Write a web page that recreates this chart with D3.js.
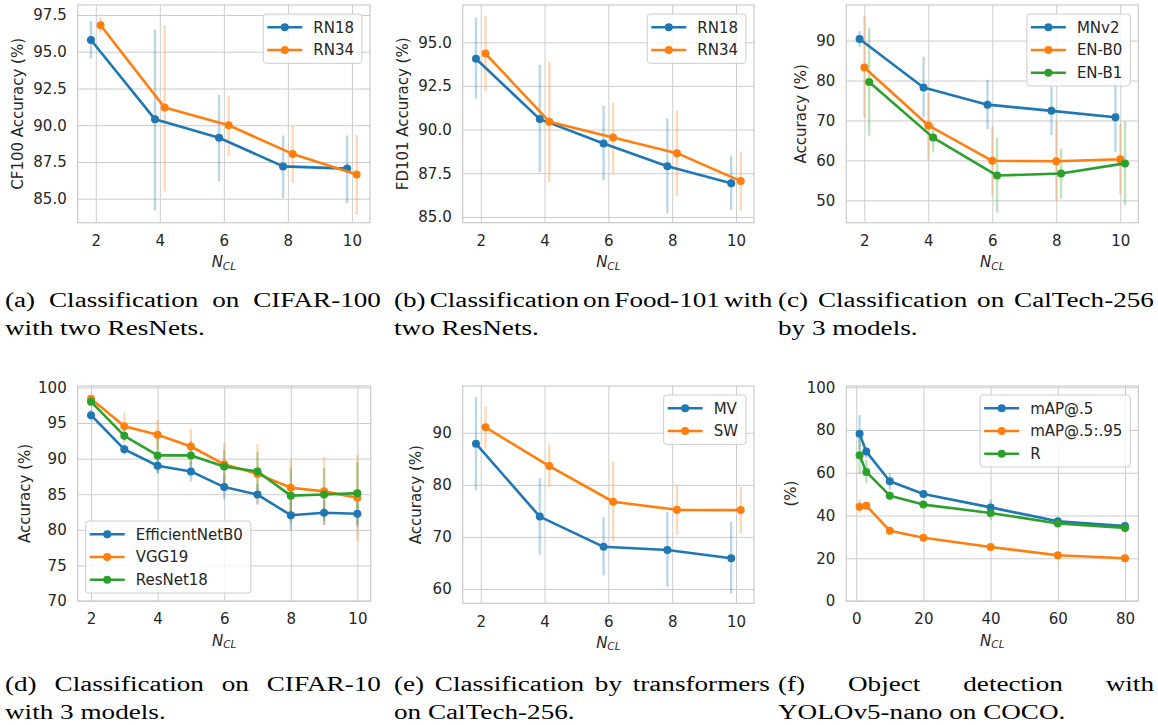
<!DOCTYPE html>
<html>
<head>
<meta charset="utf-8">
<script src="https://cdn.jsdelivr.net/npm/d3@7"></script>
<style>
body { margin: 0; background: #fff; }
</style>
</head>
<body>
<svg width="1158" height="725"></svg>
<script>
// ---- data ----
var nclTicks = [2, 4, 6, 8, 10];
var nclAll = [2, 3, 4, 5, 6, 7, 8, 9, 10];
var cocoN = [1, 3, 10, 20, 40, 60, 80];
var cocoTicks = [0, 20, 40, 60, 80];

// (a) CIFAR-100
var cf100Ticks = [85, 87.5, 90, 92.5, 95, 97.5];
var cf100RN18 = [95.8, 90.4, 89.15, 87.2, 87.05];
var cf100RN18Err = [[94.55, 97.1], [84.2, 96.5], [86.2, 92.05], [85.05, 89.3], [84.7, 89.3]];
var cf100RN34 = [96.8, 91.2, 90.0, 88.05, 86.65];
var cf100RN34Err = [[96.3, 97.3], [85.5, 96.8], [87.9, 92.0], [86.1, 89.95], [83.9, 89.35]];

// (b) Food-101
var fd101Ticks = [85, 87.5, 90, 92.5, 95];
var fd101RN18 = [94.05, 90.6, 89.2, 87.9, 86.93];
var fd101RN18Err = [[91.75, 96.4], [87.55, 93.7], [87.1, 91.35], [85.2, 90.65], [85.4, 88.5]];
var fd101RN34 = [94.35, 90.45, 89.55, 88.65, 87.05];
var fd101RN34Err = [[92.2, 96.5], [87.0, 93.9], [87.5, 91.55], [86.2, 91.1], [85.35, 88.75]];

// (c) CalTech-256
var ct256Ticks = [50, 60, 70, 80, 90];
var ct256MNv2 = [90.4, 78.25, 73.95, 72.4, 70.8];
var ct256MNv2Err = [[88.4, 92.4], [70.8, 85.9], [67.8, 80.2], [66.3, 78.5], [62.1, 79.5]];
var ct256ENB0 = [83.25, 68.75, 59.9, 59.8, 60.3];
var ct256ENB0Err = [[70.6, 96.2], [60.4, 76.9], [51.2, 68.5], [49.8, 69.8], [51.5, 69.1]];
var ct256ENB1 = [79.6, 65.7, 56.2, 56.7, 59.25];
var ct256ENB1Err = [[66.2, 93.1], [62.2, 69.2], [46.9, 65.6], [50.4, 62.9], [48.8, 69.8]];

// (d) CIFAR-10
var cf10Ticks = [70, 75, 80, 85, 90, 95, 100];
var cf10Eff = [96.1, 91.3, 89.0, 88.2, 86.0, 84.95, 82.05, 82.4, 82.25];
var cf10EffErr = [[95.3, 96.9], [90.6, 92.0], [88.0, 90.0], [86.8, 89.6], [84.3, 87.7], [83.5, 86.4], [79.9, 84.2], [80.7, 84.1], [80.4, 84.1]];
var cf10VGG = [98.4, 94.55, 93.35, 91.7, 89.2, 87.85, 85.9, 85.4, 84.5];
var cf10VGGErr = [[98.0, 98.8], [92.6, 96.5], [91.3, 95.4], [89.2, 94.2], [86.2, 92.2], [83.7, 92.0], [82.0, 89.8], [80.6, 90.2], [78.4, 90.6]];
var cf10Res = [98.0, 93.2, 90.45, 90.45, 88.9, 88.2, 84.8, 84.95, 85.15];
var cf10ResErr = [[97.5, 98.5], [92.3, 94.1], [87.9, 93.0], [88.4, 92.5], [86.6, 91.2], [85.5, 90.9], [81.0, 88.6], [81.2, 88.7], [80.8, 89.5]];

// (e) transformers on CalTech-256
var vitTicks = [60, 70, 80, 90];
var vitMV = [87.9, 73.9, 68.1, 67.5, 65.9];
var vitMVErr = [[79.0, 96.9], [66.6, 81.3], [62.6, 73.8], [60.4, 74.8], [59.1, 72.9]];
var vitSW = [91.05, 83.6, 76.75, 75.2, 75.15];
var vitSWErr = [[87.0, 95.1], [79.6, 87.7], [69.2, 84.4], [70.4, 80.0], [70.7, 79.6]];

// (f) YOLOv5-nano on COCO
var cocoYTicks = [0, 20, 40, 60, 80, 100];
var cocoMap50 = [78.2, 69.9, 56.0, 50.1, 43.8, 37.3, 35.1];
var cocoMap50Err = [[70.5, 87.0], [66.8, 71.4], [52.0, 59.8], [49.3, 51.0], [40.5, 47.5], [36.5, 38.2], [34.3, 36.0]];
var cocoMap95 = [44.1, 44.6, 32.9, 29.6, 25.3, 21.4, 20.0];
var cocoMap95Err = [[41.0, 47.6], [43.5, 45.8], [32.2, 33.6], [29.0, 30.2], [24.6, 26.0], [20.9, 21.9], [19.6, 20.4]];
var cocoR = [68.2, 60.4, 49.3, 45.1, 41.2, 36.3, 34.2];
var cocoRErr = [[59.4, 76.9], [55.1, 66.0], [47.0, 51.5], [44.3, 46.0], [38.0, 44.3], [35.5, 37.2], [33.5, 35.0]];

var captions = [
  ["(a) Classification on CIFAR-100", "with two ResNets."],
  ["(b) Classification on Food-101 with", "two ResNets."],
  ["(c) Classification on CalTech-256", "by 3 models."],
  ["(d) Classification on CIFAR-10", "with 3 models."],
  ["(e) Classification by transformers", "on CalTech-256."],
  ["(f) Object detection with", "YOLOv5-nano on COCO."]
];

var blue = "#1f77b4", orange = "#ff7f0e", green = "#2ca02c";
var grid = "#cccccc", ink = "#262626";
var font = "DejaVu Sans";

var svg = d3.select("svg");
svg.append("rect").attr("width", 1158).attr("height", 725).attr("fill", "#fff");

function ser(name, xs, ys, err, color, dx) {
  return {name: name, x: xs, y: ys, err: err, color: color, dx: dx || 0};
}

var panels = [
  {box: [77.7, 5, 370, 222.7], xdom: [1.435, 10.565], ydom: [83.37, 98.18], xticks: nclTicks, yticks: cf100Ticks, yfmt: ".1f",
   ylabel: "CF100 Accuracy (%)", ylabX: 18, legend: "tr",
   series: [ser("RN18", nclTicks, cf100RN18, cf100RN18Err, blue, -0.15), ser("RN34", nclTicks, cf100RN34, cf100RN34Err, orange, 0.15)]},
  {box: [462.7, 5, 754, 222.7], xdom: [1.435, 10.565], ydom: [84.67, 97.13], xticks: nclTicks, yticks: fd101Ticks, yfmt: ".1f",
   ylabel: "FD101 Accuracy (%)", ylabX: 403.3, legend: "tr",
   series: [ser("RN18", nclTicks, fd101RN18, fd101RN18Err, blue, -0.15), ser("RN34", nclTicks, fd101RN34, fd101RN34Err, orange, 0.15)]},
  {box: [846.3, 5, 1138.3, 222.7], xdom: [1.435, 10.565], ydom: [44.4, 98.9], xticks: nclTicks, yticks: ct256Ticks, yfmt: "d",
   ylabel: "Accuracy (%)", ylabX: 801.7, legend: "tr",
   series: [ser("MNv2", nclTicks, ct256MNv2, ct256MNv2Err, blue, -0.15), ser("EN-B0", nclTicks, ct256ENB0, ct256ENB0Err, orange, 0),
            ser("EN-B1", nclTicks, ct256ENB1, ct256ENB1Err, green, 0.15)]},
  {box: [77.7, 386, 370.7, 601], xdom: [1.6, 10.4], ydom: [70, 100.2], xticks: nclTicks, yticks: cf10Ticks, yfmt: "d",
   ylabel: "Accuracy (%)", ylabX: 25, legend: "bl",
   series: [ser("EfficientNetB0", nclAll, cf10Eff, cf10EffErr, blue), ser("VGG19", nclAll, cf10VGG, cf10VGGErr, orange),
            ser("ResNet18", nclAll, cf10Res, cf10ResErr, green)]},
  {box: [462.7, 386, 754, 603.3], xdom: [1.435, 10.565], ydom: [57.25, 98.98], xticks: nclTicks, yticks: vitTicks, yfmt: "d",
   ylabel: "Accuracy (%)", ylabX: 416.7, legend: "tr",
   series: [ser("MV", nclTicks, vitMV, vitMVErr, blue, -0.15), ser("SW", nclTicks, vitSW, vitSWErr, orange, 0.15)]},
  {box: [846.3, 386, 1138.3, 601], xdom: [-2.95, 83.95], ydom: [0, 100.6], xticks: cocoTicks, yticks: cocoYTicks, yfmt: "d",
   ylabel: "(%)", ylabX: 791.7, legend: "tr",
   series: [ser("mAP@.5", cocoN, cocoMap50, cocoMap50Err, blue), ser("mAP@.5:.95", cocoN, cocoMap95, cocoMap95Err, orange),
            ser("R", cocoN, cocoR, cocoRErr, green)]}
];

function styleAxis(g) {
  g.attr("font-family", font).attr("font-size", 15);
  g.select(".domain").remove();
  g.selectAll(".tick line").attr("stroke", grid).attr("stroke-width", 1);
  g.selectAll(".tick text").attr("fill", ink);
}

function drawPanel(p) {
  var x = d3.scaleLinear().domain(p.xdom).range([p.box[0], p.box[2]]);
  var y = d3.scaleLinear().domain(p.ydom).range([p.box[3], p.box[1]]);
  var w = p.box[2] - p.box[0], h = p.box[3] - p.box[1];
  var g = svg.append("g");

  g.append("g")
    .attr("transform", "translate(0," + p.box[3] + ")")
    .call(d3.axisBottom(x).tickValues(p.xticks).tickFormat(d3.format("d"))
      .tickSizeInner(-h).tickSizeOuter(0).tickPadding(12.8))
    .call(styleAxis);

  g.append("g")
    .attr("transform", "translate(" + p.box[0] + ",0)")
    .call(d3.axisLeft(y).tickValues(p.yticks).tickFormat(d3.format(p.yfmt))
      .tickSizeInner(-w).tickSizeOuter(0).tickPadding(11))
    .call(styleAxis);

  // error bars first, then lines and markers
  p.series.forEach(function (s) {
    g.append("g").selectAll("line")
      .data(s.err)
      .enter().append("line")
      .attr("x1", function (d, i) { return x(s.x[i] + s.dx); })
      .attr("x2", function (d, i) { return x(s.x[i] + s.dx); })
      .attr("y1", function (d) { return y(d[0]); })
      .attr("y2", function (d) { return y(d[1]); })
      .attr("stroke", s.color)
      .attr("stroke-width", 2.4)
      .attr("stroke-opacity", 0.3);
  });

  p.series.forEach(function (s) {
    var line = d3.line()
      .x(function (d, i) { return x(s.x[i] + s.dx); })
      .y(function (d) { return y(d); });
    g.append("path")
      .datum(s.y)
      .attr("d", line)
      .attr("fill", "none")
      .attr("stroke", s.color)
      .attr("stroke-width", 2.6)
      .attr("stroke-linejoin", "round");
    g.append("g").selectAll("circle")
      .data(s.y)
      .enter().append("circle")
      .attr("cx", function (d, i) { return x(s.x[i] + s.dx); })
      .attr("cy", function (d) { return y(d); })
      .attr("r", 4)
      .attr("fill", s.color);
  });

  g.append("rect")
    .attr("x", p.box[0]).attr("y", p.box[1])
    .attr("width", w).attr("height", h)
    .attr("fill", "none").attr("stroke", grid).attr("stroke-width", 1.25);

  // y label
  g.append("text")
    .attr("transform", "translate(" + p.ylabX + "," + (p.box[1] + h / 2) + ") rotate(-90)")
    .attr("text-anchor", "middle")
    .attr("dy", "0.3em")
    .attr("font-family", font).attr("font-size", 15).attr("fill", ink)
    .text(p.ylabel);

  // x label N_CL
  var xl = g.append("text")
    .attr("x", p.box[0] + w / 2)
    .attr("y", p.box[3] + 44.5)
    .attr("text-anchor", "middle")
    .attr("font-family", font).attr("font-size", 15).attr("fill", ink)
    .attr("font-style", "italic");
  xl.append("tspan").text("N");
  xl.append("tspan").attr("font-size", 10.5).attr("dy", 2.6).text("CL");

  // legend
  var rowH = 22.7, lineLen = 35;
  var lg = g.append("g");
  var texts = [];
  p.series.forEach(function (s, i) {
    texts.push(lg.append("text")
      .attr("font-family", font).attr("font-size", 15).attr("fill", ink)
      .attr("dy", "0.35em")
      .text(s.name));
  });
  var tw = d3.max(texts, function (t) { return t.node().getComputedTextLength(); });
  var lw = 4 + lineLen + 11 + tw + 8;
  var lh = 26.6 + rowH * (p.series.length - 1);
  var lx, ly;
  if (p.legend === "tr") { lx = p.box[2] - 8 - lw; ly = p.box[1] + 9; }
  else { lx = p.box[0] + 8; ly = p.box[3] - 8 - lh; }
  lg.insert("rect", "text")
    .attr("x", lx).attr("y", ly).attr("width", lw).attr("height", lh)
    .attr("rx", 3)
    .attr("fill", "#fff").attr("fill-opacity", 0.8)
    .attr("stroke", grid).attr("stroke-width", 1);
  p.series.forEach(function (s, i) {
    var cy = ly + 13.3 + rowH * i;
    lg.append("line")
      .attr("x1", lx + 4).attr("x2", lx + 4 + lineLen)
      .attr("y1", cy).attr("y2", cy)
      .attr("stroke", s.color).attr("stroke-width", 2.6);
    lg.append("circle")
      .attr("cx", lx + 4 + lineLen / 2).attr("cy", cy).attr("r", 4)
      .attr("fill", s.color);
    texts[i].attr("x", lx + 4 + lineLen + 11).attr("y", cy).raise();
  });
}

panels.forEach(drawPanel);

// ---- captions (justified first line) ----
var capFont = "Liberation Serif", capSize = 20;
var capCols = [5, 394, 778];
var capW = 376;
var capRows = [307, 691];
var capLead = 28;

function measure(str) {
  var t = svg.append("text").attr("font-family", capFont).attr("font-size", capSize).text(str);
  var len = t.node().getComputedTextLength();
  t.remove();
  return len;
}

var sx = 200 / measure(captions[0][1]);

captions.forEach(function (c, k) {
  var x0 = capCols[k % 3], y0 = capRows[Math.floor(k / 3)];
  var words = c[0].split(" ");
  var widths = words.map(function (wd) { return measure(wd) * sx; });
  var gap = (capW - d3.sum(widths)) / (words.length - 1);
  if (gap < 4) gap = 4;
  var cx = x0;
  words.forEach(function (wd, i) {
    svg.append("text")
      .attr("transform", "translate(" + cx + "," + y0 + ") scale(" + sx + ",1)")
      .attr("font-family", capFont).attr("font-size", capSize).attr("fill", "#000")
      .text(wd);
    cx += widths[i] + gap;
  });
  svg.append("text")
    .attr("transform", "translate(" + x0 + "," + (y0 + capLead) + ") scale(" + sx + ",1)")
    .attr("font-family", capFont).attr("font-size", capSize).attr("fill", "#000")
    .text(c[1]);
});
</script>
</body>
</html>
